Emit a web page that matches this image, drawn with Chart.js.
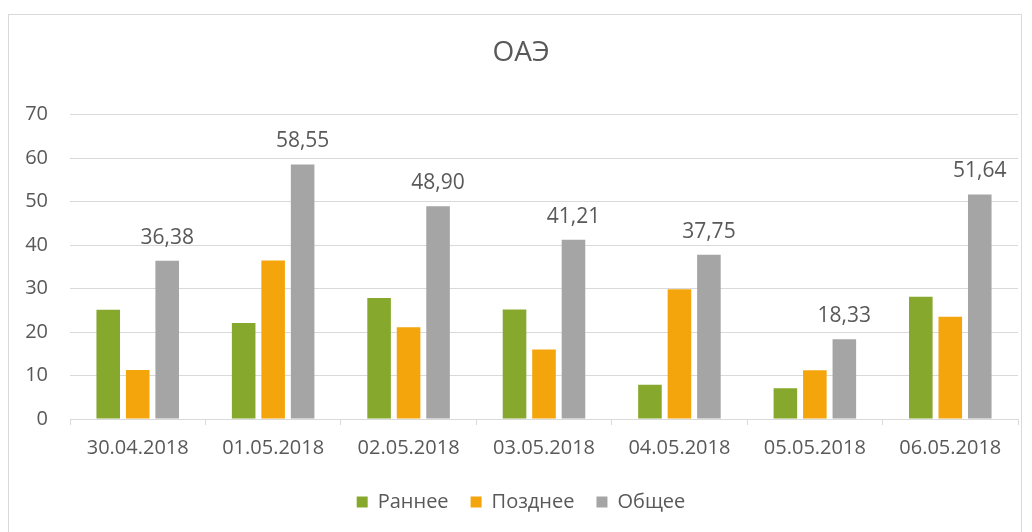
<!DOCTYPE html>
<html lang="ru">
<head>
    <meta charset="UTF-8">
    <title>ОАЭ</title>
    <script src="https://cdn.jsdelivr.net/npm/chart.js"></script>
    <style>
        body {
            margin: 0;
            background-color: #ffffff;
        }
        #wrap {
            width: 1032px;
            height: 532px;
        }
    </style>
</head>
<body>
    <div id="wrap"><canvas id="uaeChart"></canvas></div>

    <script>
        const categories = ['30.04.2018', '01.05.2018', '02.05.2018', '03.05.2018', '04.05.2018', '05.05.2018', '06.05.2018'];
        const earlyValues = [25.1, 22.1, 27.8, 25.2, 7.9, 7.1, 28.1];
        const lateValues = [11.28, 36.45, 21.1, 16.0, 29.85, 11.23, 23.54];
        const totalValues = [36.38, 58.55, 48.90, 41.21, 37.75, 18.33, 51.64];
        const seriesNames = ['Раннее', 'Позднее', 'Общее'];
        const yTicks = [0, 10, 20, 30, 40, 50, 60, 70];

        const textColor = '#595959';
        const fontName = "'Open Sans', 'Noto Sans', sans-serif";

        // frame around the whole chart, like the office chart border
        const framePlugin = {
            id: 'frame',
            beforeDraw(chart) {
                const ctx = chart.ctx;
                ctx.save();
                ctx.strokeStyle = '#d9d9d9';
                ctx.lineWidth = 1;
                ctx.strokeRect(8.5, 14.5, 1013, 530);
                ctx.restore();
            }
        };

        // value labels above the "Общее" bars only
        const totalLabels = {
            id: 'totalLabels',
            afterDatasetsDraw(chart) {
                const ctx = chart.ctx;
                const meta = chart.getDatasetMeta(2);
                ctx.save();
                ctx.fillStyle = textColor;
                ctx.font = '21px ' + fontName;
                ctx.textAlign = 'center';
                ctx.textBaseline = 'middle';
                meta.data.forEach((bar, i) => {
                    const txt = totalValues[i].toFixed(2).replace('.', ',');
                    ctx.fillText(txt, bar.x, bar.y - 23);
                });
                ctx.restore();
            }
        };

        const ctx = document.getElementById('uaeChart').getContext('2d');
        new Chart(ctx, {
            type: 'bar',
            data: {
                labels: categories,
                datasets: [
                    { label: seriesNames[0], data: earlyValues, backgroundColor: '#86a92d' },
                    { label: seriesNames[1], data: lateValues, backgroundColor: '#f5a50c' },
                    { label: seriesNames[2], data: totalValues, backgroundColor: '#a5a5a5' }
                ]
            },
            options: {
                responsive: true,
                maintainAspectRatio: false,
                animation: false,
                datasets: {
                    bar: { categoryPercentage: 0.653, barPercentage: 0.8 }
                },
                layout: {
                    padding: { left: 24, right: 14, top: 14, bottom: 10 }
                },
                scales: {
                    x: {
                        grid: {
                            offset: true,
                            drawOnChartArea: false,
                            drawTicks: true,
                            tickLength: 6,
                            color: '#d9d9d9'
                        },
                        border: { color: '#d9d9d9' },
                        ticks: {
                            color: textColor,
                            font: { family: fontName, size: 20 },
                            padding: 11
                        },
                        afterFit(axis) {
                            axis.height -= 1;
                        }
                    },
                    y: {
                        min: 0,
                        max: 70,
                        afterBuildTicks(axis) {
                            axis.ticks = yTicks.map(v => ({ value: v }));
                        },
                        afterFit(axis) {
                            axis.width = 46;
                        },
                        grid: {
                            color: '#d9d9d9',
                            drawTicks: false
                        },
                        border: { display: false },
                        ticks: {
                            color: textColor,
                            font: { family: fontName, size: 20 },
                            padding: 22
                        }
                    }
                },
                plugins: {
                    title: {
                        display: true,
                        text: 'ОАЭ',
                        color: textColor,
                        font: { family: fontName, size: 28, weight: 'normal' },
                        padding: { top: 22, bottom: 45 }
                    },
                    legend: {
                        position: 'bottom',
                        labels: {
                            color: textColor,
                            font: { family: fontName, size: 20 },
                            boxWidth: 11,
                            boxHeight: 11,
                            padding: 22
                        }
                    },
                    tooltip: { enabled: false }
                }
            },
            plugins: [framePlugin, totalLabels]
        });
    </script>
</body>
</html>
